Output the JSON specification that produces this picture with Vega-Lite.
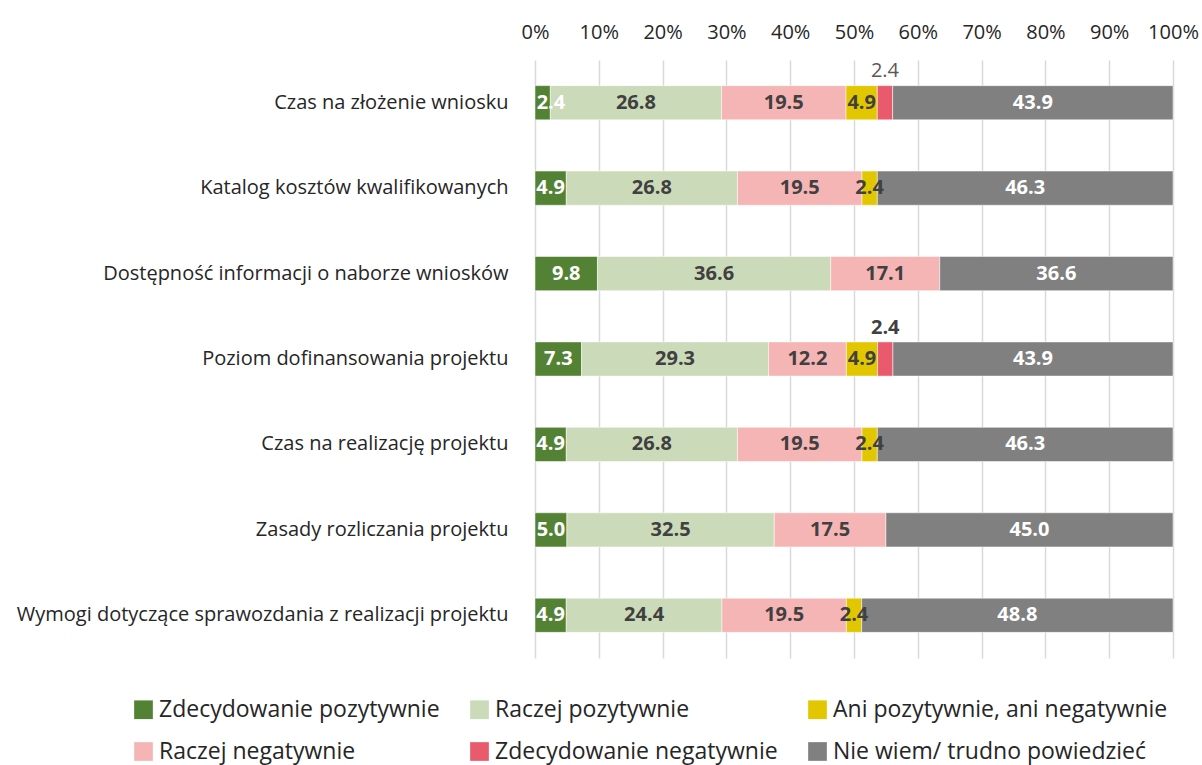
{
  "$schema": "https://vega.github.io/schema/vega-lite/v6.json",
  "width": 638,
  "height": 598,
  "autosize": "none",
  "padding": {"left": 535, "top": 60, "right": 29, "bottom": 107},
  "background": "white",
  "config": {"view": {"stroke": null}, "font": "Open Sans"},
  "data": {"values": [
    {"q": "Czas na złożenie wniosku", "s": "Zdecydowanie pozytywnie", "v": 2.4},
    {"q": "Czas na złożenie wniosku", "s": "Raczej pozytywnie", "v": 26.8},
    {"q": "Czas na złożenie wniosku", "s": "Raczej negatywnie", "v": 19.5},
    {"q": "Czas na złożenie wniosku", "s": "Ani pozytywnie, ani negatywnie", "v": 4.9},
    {"q": "Czas na złożenie wniosku", "s": "Zdecydowanie negatywnie", "v": 2.4},
    {"q": "Czas na złożenie wniosku", "s": "Nie wiem/ trudno powiedzieć", "v": 43.9},
    {"q": "Katalog kosztów kwalifikowanych", "s": "Zdecydowanie pozytywnie", "v": 4.9},
    {"q": "Katalog kosztów kwalifikowanych", "s": "Raczej pozytywnie", "v": 26.8},
    {"q": "Katalog kosztów kwalifikowanych", "s": "Raczej negatywnie", "v": 19.5},
    {"q": "Katalog kosztów kwalifikowanych", "s": "Ani pozytywnie, ani negatywnie", "v": 2.4},
    {"q": "Katalog kosztów kwalifikowanych", "s": "Nie wiem/ trudno powiedzieć", "v": 46.3},
    {"q": "Dostępność informacji o naborze wniosków", "s": "Zdecydowanie pozytywnie", "v": 9.8},
    {"q": "Dostępność informacji o naborze wniosków", "s": "Raczej pozytywnie", "v": 36.6},
    {"q": "Dostępność informacji o naborze wniosków", "s": "Raczej negatywnie", "v": 17.1},
    {"q": "Dostępność informacji o naborze wniosków", "s": "Nie wiem/ trudno powiedzieć", "v": 36.6},
    {"q": "Poziom dofinansowania projektu", "s": "Zdecydowanie pozytywnie", "v": 7.3},
    {"q": "Poziom dofinansowania projektu", "s": "Raczej pozytywnie", "v": 29.3},
    {"q": "Poziom dofinansowania projektu", "s": "Raczej negatywnie", "v": 12.2},
    {"q": "Poziom dofinansowania projektu", "s": "Ani pozytywnie, ani negatywnie", "v": 4.9},
    {"q": "Poziom dofinansowania projektu", "s": "Zdecydowanie negatywnie", "v": 2.4},
    {"q": "Poziom dofinansowania projektu", "s": "Nie wiem/ trudno powiedzieć", "v": 43.9},
    {"q": "Czas na realizację projektu", "s": "Zdecydowanie pozytywnie", "v": 4.9},
    {"q": "Czas na realizację projektu", "s": "Raczej pozytywnie", "v": 26.8},
    {"q": "Czas na realizację projektu", "s": "Raczej negatywnie", "v": 19.5},
    {"q": "Czas na realizację projektu", "s": "Ani pozytywnie, ani negatywnie", "v": 2.4},
    {"q": "Czas na realizację projektu", "s": "Nie wiem/ trudno powiedzieć", "v": 46.3},
    {"q": "Zasady rozliczania projektu", "s": "Zdecydowanie pozytywnie", "v": 5.0},
    {"q": "Zasady rozliczania projektu", "s": "Raczej pozytywnie", "v": 32.5},
    {"q": "Zasady rozliczania projektu", "s": "Raczej negatywnie", "v": 17.5},
    {"q": "Zasady rozliczania projektu", "s": "Nie wiem/ trudno powiedzieć", "v": 45.0},
    {"q": "Wymogi dotyczące sprawozdania z realizacji projektu", "s": "Zdecydowanie pozytywnie", "v": 4.9},
    {"q": "Wymogi dotyczące sprawozdania z realizacji projektu", "s": "Raczej pozytywnie", "v": 24.4},
    {"q": "Wymogi dotyczące sprawozdania z realizacji projektu", "s": "Raczej negatywnie", "v": 19.5},
    {"q": "Wymogi dotyczące sprawozdania z realizacji projektu", "s": "Ani pozytywnie, ani negatywnie", "v": 2.4},
    {"q": "Wymogi dotyczące sprawozdania z realizacji projektu", "s": "Nie wiem/ trudno powiedzieć", "v": 48.8}
  ]},
  "transform": [
    {"calculate": "indexof(['Zdecydowanie pozytywnie','Raczej pozytywnie','Raczej negatywnie','Ani pozytywnie, ani negatywnie','Zdecydowanie negatywnie','Nie wiem/ trudno powiedzieć'], datum.s)", "as": "ord"},
    {"stack": "v", "groupby": ["q"], "sort": [{"field": "ord", "order": "ascending"}], "offset": "normalize", "as": ["x0", "x1"]},
    {"calculate": "(datum.x0 + datum.x1) / 2", "as": "xm"},
    {"calculate": "format(datum.v, '.1f')", "as": "lbl"}
  ],
  "encoding": {
    "y": {
      "field": "q", "type": "nominal", "sort": null,
      "scale": {"paddingInner": 0.6, "paddingOuter": 0.3},
      "axis": {"title": null, "domain": false, "ticks": false, "labelPadding": 27, "labelFontSize": 20, "labelColor": "#262626", "labelLimit": 600, "labelFont": "Open Sans"}
    }
  },
  "layer": [
    {
      "mark": {"type": "bar", "stroke": "#ffffff", "strokeWidth": 0.5},
      "encoding": {
        "x": {
          "field": "x0", "type": "quantitative",
          "scale": {"domain": [0, 1], "nice": false},
          "axis": {"orient": "top", "title": null, "domain": false, "ticks": false, "values": [0, 0.1, 0.2, 0.3, 0.4, 0.5, 0.6, 0.7, 0.8, 0.9, 1], "format": ".0%", "labelFontSize": 20, "labelColor": "#262626", "labelPadding": 18, "labelFlush": false, "labelOverlap": false, "grid": true, "gridColor": "#D9D9D9", "gridWidth": 1.5, "labelFont": "Open Sans"}
        },
        "x2": {"field": "x1"},
        "color": {
          "field": "s", "type": "nominal",
          "scale": {
            "domain": ["Zdecydowanie pozytywnie", "Raczej pozytywnie", "Ani pozytywnie, ani negatywnie", "Raczej negatywnie", "Zdecydowanie negatywnie", "Nie wiem/ trudno powiedzieć"],
            "range": ["#548235", "#CBDAB8", "#E2C700", "#F5B5B5", "#E95A6D", "#808080"]
          },
          "legend": {
            "title": null, "orient": "none", "legendX": -403, "legendY": 638,
            "direction": "horizontal", "columns": 3, "symbolType": "square", "symbolSize": 350,
            "symbolStrokeWidth": 0, "labelFontSize": 23, "labelFont": "Open Sans", "labelColor": "#262626",
            "labelLimit": 500, "labelOffset": 4, "columnPadding": 28, "rowPadding": 18
          }
        }
      }
    },
    {
      "transform": [{"filter": "datum.s !== 'Zdecydowanie negatywnie' && !(datum.s === 'Zdecydowanie pozytywnie' && datum.v < 3)"}],
      "mark": {"type": "text", "fontSize": 20, "fontWeight": "bold", "font": "Open Sans", "baseline": "middle", "align": "center"},
      "encoding": {
        "x": {"field": "xm", "type": "quantitative"},
        "text": {"field": "lbl"},
        "color": {
          "condition": {"test": "datum.s === 'Zdecydowanie pozytywnie' || datum.s === 'Nie wiem/ trudno powiedzieć'", "value": "#ffffff"},
          "value": "#404040"
        }
      }
    },
    {
      "transform": [{"filter": "datum.s === 'Zdecydowanie pozytywnie' && datum.v < 3"}],
      "mark": {"type": "text", "fontSize": 20, "fontWeight": "bold", "font": "Open Sans", "baseline": "middle", "align": "left", "dx": -6, "color": "#ffffff"},
      "encoding": {
        "x": {"field": "xm", "type": "quantitative"},
        "text": {"field": "lbl"}
      }
    },
    {
      "transform": [{"filter": "datum.s === 'Zdecydowanie negatywnie' && datum.q === 'Czas na złożenie wniosku'"}],
      "mark": {"type": "text", "fontSize": 20, "font": "Open Sans", "baseline": "middle", "align": "center", "dy": -32, "color": "#595959"},
      "encoding": {
        "x": {"field": "xm", "type": "quantitative"},
        "text": {"field": "lbl"}
      }
    },
    {
      "transform": [{"filter": "datum.s === 'Zdecydowanie negatywnie' && datum.q !== 'Czas na złożenie wniosku'"}],
      "mark": {"type": "text", "fontSize": 20, "fontWeight": "bold", "font": "Open Sans", "baseline": "middle", "align": "center", "dy": -31, "color": "#404040"},
      "encoding": {
        "x": {"field": "xm", "type": "quantitative"},
        "text": {"field": "lbl"}
      }
    }
  ]
}
